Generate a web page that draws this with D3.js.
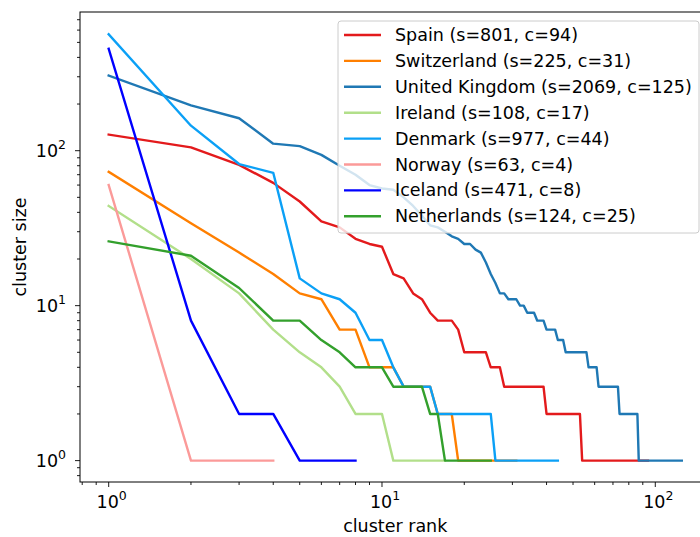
<!DOCTYPE html>
<html>
<head>
<meta charset="utf-8">
<script src="https://cdn.jsdelivr.net/npm/d3@7"></script>
<style>
  body { margin: 0; background: #fff; }
  text { font-family: "DejaVu Sans", sans-serif; fill: #000; }
</style>
</head>
<body>
<div id="chart"></div>
<script>
// cluster sizes, sorted by rank, one array per country
var spain = [127,105,81,62,47,35,32,27,25,24,16,15,12,11,9,8,8,8,7,5,5,5,5,5,4,4,4,
  3,3,3,3,3,3,3,3,3,3,3,3,
  2,2,2,2,2,2,2,2,2,2,2,2,2,2,
  1,1,1,1,1,1,1,1,1,1,1,1,1,1,1,1,1,1,1,1,1,1,1,1,1,1,1,1,1,1,1,1,1,1,1,1,1,1,1,1,1];
var switzerland = [73,34,22,16,12,11,7,7,4,4,4,3,3,3,3,2,2,2,
  1,1,1,1,1,1,1,1,1,1,1,1,1];
var unitedKingdom = [305,196,162,111,107,94,80,70,60,57,56,
  50,44,38,33,32,30,28,27,25,25,23,22,19,16,14,12,12,11,11,11,10,10,9,9,9,8,8,8,
  7,7,7,7,6,6,6,5,5,5,5,5,5,5,5,5,5,4,4,4,4,4,
  3,3,3,3,3,3,3,3,3,3,3,3,
  2,2,2,2,2,2,2,2,2,2,2,2,2,
  1,1,1,1,1,1,1,1,1,1,1,1,1,1,1,1,1,1,1,1,1,1,1,1,1,1,1,1,1,1,1,1,1,1,1,1,1,1,1];
var ireland = [44,20,12,7,5,4,3,2,2,2,1,1,1,1,1,1,1];
var denmark = [564,145,82,72,15,12,11,9,6,6,4,3,3,3,3,2,2,2,2,2,2,2,2,2,2,
  1,1,1,1,1,1,1,1,1,1,1,1,1,1,1,1,1,1,1];
var norway = [60,1,1,1];
var iceland = [455,8,2,2,1,1,1,1];
var netherlands = [26,21,13,8,8,6,5,4,4,4,3,3,3,3,2,2,1,1,1,1,1,1,1,1,1];

var countries = ["Spain","Switzerland","United Kingdom","Ireland","Denmark","Norway","Iceland","Netherlands"];
var seriesList = [spain, switzerland, unitedKingdom, ireland, denmark, norway, iceland, netherlands];
var colors = ["#e31a1c","#ff7f00","#1f78b4","#b2df8a","#0ba0f6","#fb9a99","#0000ff","#33a02c"];

var width = 700, height = 537;
var plotLeft = 80, plotRight = 710.5, plotTop = 12, plotBottom = 482;
var fontSize = "17.5px";

var svg = d3.select("#chart").append("svg")
  .attr("width", width)
  .attr("height", height);

// log axes with matplotlib-like 5% margins in log space
var x = d3.scaleLog().domain([Math.pow(10, -0.105), Math.pow(10, 2.202)]).range([plotLeft, plotRight]);
var y = d3.scaleLog().domain([Math.pow(10, -0.138), Math.pow(10, 2.895)]).range([plotBottom, plotTop]);

svg.append("defs").append("clipPath").attr("id", "clip")
  .append("rect")
  .attr("x", plotLeft).attr("y", plotTop)
  .attr("width", plotRight - plotLeft).attr("height", plotBottom - plotTop);

var line = d3.line()
  .x(function (d, i) { return x(i + 1); })
  .y(function (d) { return y(d); });

var linesG = svg.append("g").attr("clip-path", "url(#clip)");
seriesList.forEach(function (s, k) {
  linesG.append("path")
    .datum(s)
    .attr("d", line)
    .attr("fill", "none")
    .attr("stroke", colors[k])
    .attr("stroke-width", 2.4)
    .attr("stroke-linejoin", "round")
    .attr("stroke-linecap", "square");
});

// ticks
var majors = [1, 10, 100];
var minorsX = [], minorsY = [];
[0.1, 1, 10, 100].forEach(function (dec) {
  for (var m = 2; m <= 9; m++) {
    var v = m * dec;
    if (v >= x.domain()[0] && v <= x.domain()[1]) minorsX.push(v);
    if (v >= y.domain()[0] && v <= y.domain()[1]) minorsY.push(v);
  }
});

var axisG = svg.append("g").attr("stroke", "#000").attr("stroke-width", 0.9);

minorsX.forEach(function (v) {
  axisG.append("line").attr("x1", x(v)).attr("x2", x(v)).attr("y1", plotBottom).attr("y2", plotBottom + 3);
});
majors.forEach(function (v) {
  axisG.append("line").attr("x1", x(v)).attr("x2", x(v)).attr("y1", plotBottom).attr("y2", plotBottom + 5);
});
minorsY.forEach(function (v) {
  axisG.append("line").attr("y1", y(v)).attr("y2", y(v)).attr("x1", plotLeft).attr("x2", plotLeft - 3);
});
majors.forEach(function (v) {
  axisG.append("line").attr("y1", y(v)).attr("y2", y(v)).attr("x1", plotLeft).attr("x2", plotLeft - 5);
});

// spines
svg.append("rect")
  .attr("x", plotLeft).attr("y", plotTop)
  .attr("width", plotRight - plotLeft).attr("height", plotBottom - plotTop)
  .attr("fill", "none").attr("stroke", "#000").attr("stroke-width", 1);

function powLabel(sel, exp) {
  sel.append("tspan").text("10");
  sel.append("tspan").attr("dy", -8).attr("font-size", "12.5px").text(exp);
}

majors.forEach(function (v, i) {
  var t = svg.append("text")
    .attr("x", x(v) + 3).attr("y", plotBottom + 26)
    .attr("text-anchor", "middle")
    .attr("font-size", fontSize);
  powLabel(t, i);
  var ty = svg.append("text")
    .attr("x", plotLeft - 14).attr("y", y(v) + 6)
    .attr("text-anchor", "end")
    .attr("font-size", fontSize);
  powLabel(ty, i);
});

svg.append("text")
  .attr("x", (plotLeft + plotRight) / 2).attr("y", 532)
  .attr("text-anchor", "middle")
  .attr("font-size", fontSize)
  .text("cluster rank");

svg.append("text")
  .attr("transform", "translate(26," + ((plotTop + plotBottom) / 2) + ") rotate(-90)")
  .attr("text-anchor", "middle")
  .attr("font-size", fontSize)
  .text("cluster size");

// legend
var legend = svg.append("g").attr("transform", "translate(338,21)");
legend.append("rect")
  .attr("width", 361).attr("height", 212)
  .attr("rx", 3).attr("ry", 3)
  .attr("fill", "#fff").attr("fill-opacity", 0.8)
  .attr("stroke", "#cccccc").attr("stroke-width", 1);

countries.forEach(function (c, k) {
  var s = seriesList[k];
  var total = d3.sum(s);
  var row = legend.append("g").attr("transform", "translate(0," + (14 + k * 25.9) + ")");
  row.append("line")
    .attr("x1", 6).attr("x2", 43)
    .attr("stroke", colors[k]).attr("stroke-width", 2.4);
  row.append("text")
    .attr("x", 57).attr("y", 6)
    .attr("font-size", fontSize)
    .text(c + " (s=" + total + ", c=" + s.length + ")");
});
</script>
</body>
</html>
